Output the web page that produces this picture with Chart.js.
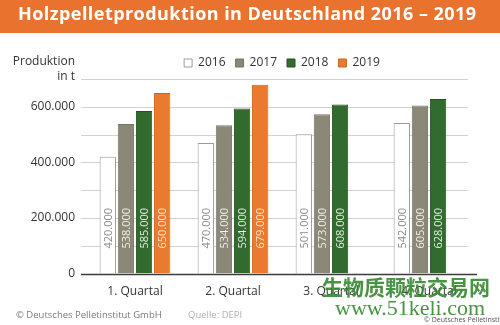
<!DOCTYPE html>
<html>
<head>
<meta charset="utf-8">
<script src="https://cdn.jsdelivr.net/npm/chart.js@4"></script>
<style>
  html, body { margin: 0; padding: 0; background: #fff; }
  #wrap { width: 500px; height: 325px; position: relative; }
</style>
</head>
<body>
<div id="wrap"><canvas id="pelletChart"></canvas></div>
<script>
const categories = ['1. Quartal', '2. Quartal', '3. Quartal', '4. Quartal'];
const years = ['2016', '2017', '2018', '2019'];
const prod2016 = [420000, 470000, 501000, 542000];
const prod2017 = [538000, 534000, 573000, 605000];
const prod2018 = [585000, 594000, 608000, 628000];
const prod2019 = [650000, 679000, null, null];
const yTicks = [0, 200000, 400000, 600000];

const FONT = '"Open Sans", "Noto Sans", sans-serif';

// 420000 -> "420.000"
function fmt(v) {
  return String(v).replace(/\B(?=(\d{3})+(?!\d))/g, '.');
}

const fills = ['#ffffff', '#8c8878', '#316b2d', '#e97a2f'];
const borders = ['#9a9a9a', '#77736a', '#24521f', '#c9641f'];
const labelColors = ['#8a8a8a', '#f2f0ea', '#e4eee2', '#fde6d6'];

const series = [prod2016, prod2017, prod2018, prod2019];

// orange header, grid lines, axis line, axis caption, footer texts
const decor = {
  id: 'decor',
  beforeDraw(chart) {
    const ctx = chart.ctx;
    ctx.save();
    ctx.fillStyle = '#e9732e';
    ctx.fillRect(0, 0, chart.width, 33);
    ctx.fillStyle = '#ffffff';
    ctx.font = 'bold 18px ' + FONT;
    ctx.letterSpacing = '0.45px';
    ctx.textBaseline = 'alphabetic';
    ctx.fillText('Holzpelletproduktion in Deutschland 2016 – 2019', 18, 20);
    ctx.restore();
  },
  beforeDatasetsDraw(chart) {
    const ctx = chart.ctx;
    const y = chart.scales.y;
    ctx.save();
    ctx.strokeStyle = '#d2d2d2';
    ctx.lineWidth = 1;
    for (let v = 100000; v <= 700000; v += 100000) {
      const py = Math.round(y.getPixelForValue(v)) + 0.5;
      ctx.beginPath();
      ctx.moveTo(81, py);
      ctx.lineTo(468, py);
      ctx.stroke();
    }
    ctx.restore();
  },
  afterDatasetsDraw(chart) {
    const ctx = chart.ctx;
    const y = chart.scales.y;
    ctx.save();
    // value labels inside the bars
    ctx.font = '11px ' + FONT;
    ctx.textAlign = 'left';
    ctx.textBaseline = 'middle';
    chart.data.datasets.forEach((ds, i) => {
      const meta = chart.getDatasetMeta(i);
      meta.data.forEach((bar, j) => {
        const v = ds.data[j];
        if (v == null) return;
        ctx.save();
        ctx.translate(bar.x + 1, bar.base - 25);
        ctx.rotate(-Math.PI / 2);
        ctx.fillStyle = labelColors[i];
        ctx.fillText(fmt(v), 0, 0);
        ctx.restore();
      });
    });
    // zero line
    const p0 = Math.round(y.getPixelForValue(0)) + 0.5;
    ctx.strokeStyle = '#3c3c3c';
    ctx.lineWidth = 1.5;
    ctx.beginPath();
    ctx.moveTo(81, p0);
    ctx.lineTo(477, p0);
    ctx.stroke();

    // axis caption
    ctx.fillStyle = '#333';
    ctx.font = '12px ' + FONT;
    ctx.textAlign = 'right';
    ctx.fillText('Produktion', 75, 62);
    ctx.fillText('in t', 75, 77);

    // footer
    ctx.textAlign = 'left';
    ctx.font = '9.5px ' + FONT;
    ctx.fillStyle = '#7a7a7a';
    ctx.fillText('© Deutsches Pelletinstitut GmbH', 16, 315);
    ctx.fillStyle = '#b0b0b0';
    ctx.fillText('Quelle: DEPI', 188, 315);

    // site stamp
    ctx.fillStyle = 'rgba(52, 135, 48, 0.9)';
    ctx.font = 'bold 21px "Noto Sans CJK SC", sans-serif';
    ctx.fillText('生物质颗粒交易网', 322, 287);
    ctx.font = '22px "Liberation Serif", serif';
    ctx.fillText('www.51keli.com', 335, 309);
    ctx.fillStyle = '#555';
    ctx.font = '7px ' + FONT;
    ctx.fillText('© Deutsches Pelletinstitut', 424, 320);
    ctx.restore();
  }
};

new Chart(document.getElementById('pelletChart'), {
  type: 'bar',
  data: {
    labels: categories,
    datasets: years.map((yr, i) => ({
      label: yr,
      data: series[i],
      backgroundColor: fills[i],
      borderColor: borders[i],
      borderWidth: 1,
      categoryPercentage: 0.74,
      barPercentage: 0.9
    }))
  },
  options: {
    responsive: true,
    maintainAspectRatio: false,
    animation: false,
    layout: { padding: { left: 0, right: 22, top: 47, bottom: 15 } },
    plugins: {
      title: { display: false },
      legend: {
        position: 'top',
        fullSize: false,
        labels: {
          boxWidth: 8,
          boxHeight: 8,
          padding: 10,
          color: '#333',
          font: { family: FONT, size: 12 }
        }
      },
      tooltip: { enabled: false }
    },
    scales: {
      x: {
        grid: { display: false, drawTicks: false },
        border: { display: false },
        ticks: { color: '#333', padding: 11, font: { family: FONT, size: 12 } }
      },
      y: {
        min: 0,
        max: 700000,
        afterFit(scale) { scale.width = 86; },
        afterBuildTicks(scale) {
          scale.ticks = [0, 100000, 200000, 300000, 400000, 500000, 600000, 700000].map(v => ({ value: v }));
        },
        grid: { display: false, drawTicks: false },
        border: { display: false },
        ticks: {
          autoSkip: false,
          padding: 11,
          color: '#333',
          font: { family: FONT, size: 12 },
          callback: v => yTicks.includes(v) ? fmt(v) : ''
        }
      }
    }
  },
  plugins: [decor]
});
</script>
</body>
</html>
